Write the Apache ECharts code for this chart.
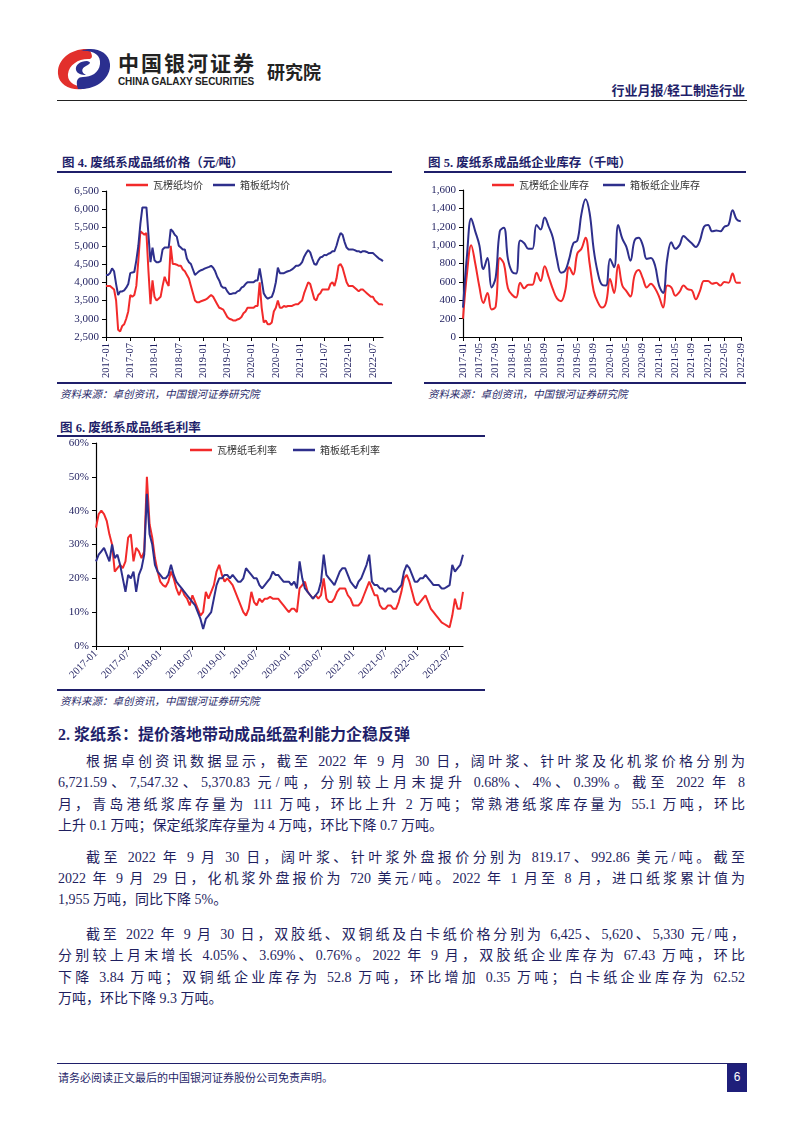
<!DOCTYPE html>
<html>
<head>
<meta charset="utf-8">
<script src="https://cdn.jsdelivr.net/npm/echarts@6/dist/echarts.min.js"></script>
<style>
  body { margin: 0; background: #fff; width: 802px; height: 1133px; position: relative; overflow: hidden;
         font-family: "Liberation Serif", "Noto Sans CJK SC", serif; color: #1f1f5f; }
  .abs { position: absolute; }
  .hline { position: absolute; height: 0; }
  .ctitle { position: absolute; font-size: 12.5px; font-weight: bold; color: #1f1f6a; white-space: nowrap; }
  .src { position: absolute; font-size: 10.5px; font-style: italic; color: #2a2a6a; white-space: nowrap; }
  .chart { position: absolute; }
  .ln { position: absolute; left: 58px; width: 687px; font-size: 14px; line-height: 18px; white-space: nowrap;
        text-align: justify; text-align-last: justify; }
  .ln.last { text-align-last: left; }
  .ln.ind { left: 86px; width: 659px; }
</style>
</head>
<body>

<!-- 页眉 -->
<svg class="abs" style="left:56px;top:46px" width="56" height="46" viewBox="0 0 56 46">
  <path d="M33 3 C14 2 1 14 2 28 C3 41 20 47 33 41 C21 42 11 37 12 28 C13 19 22 13 32 13 C36 13 38 11 33 3 Z" fill="#e2302c"/>
  <path d="M22 43 C41 44 55 32 54 18 C53 5 37 0 25 5 C37 4 45 9 44 18 C43 27 35 31 27 31 C22 31 19 34 22 43 Z" fill="#2b2f8f"/>
  <path d="M31 15 C24 15 19 19 20 24 C21 28 26 29 30 29 C25 27 25 22 30 20 C34 18 36 16 31 15 Z" fill="#2b2f8f"/>
</svg>
<div class="abs" style="left:118px;top:52px;font-family:'Noto Sans CJK SC';font-weight:bold;font-size:21px;line-height:21px;color:#222;letter-spacing:2px;">中国银河证券</div>
<div class="abs" style="left:118px;top:77px;font-family:'Liberation Sans';font-weight:bold;font-size:10px;line-height:10px;color:#222;letter-spacing:-0.1px;">CHINA GALAXY SECURITIES</div>
<div class="abs" style="left:267px;top:62px;font-family:'Noto Sans CJK SC';font-weight:bold;font-size:18px;line-height:18px;color:#222;">研究院</div>
<div class="abs" style="right:57px;top:80px;font-size:13px;color:#1f1f6a;font-weight:bold;">行业月报/轻工制造行业</div>
<div class="hline" style="left:57px;top:100px;width:690px;border-top:1.5px solid #222;"></div>

<!-- 图4 -->
<div class="ctitle" style="left:62px;top:152px;">图 4. 废纸系成品纸价格（元/吨）</div>
<div class="hline" style="left:57px;top:171px;width:335px;border-top:2px solid #1f1f6a;"></div>
<div id="priceChart" class="chart" style="left:57px;top:172px;width:335px;height:209px;"></div>
<div class="hline" style="left:57px;top:382px;width:335px;border-top:2px solid #1f1f6a;"></div>
<div class="src" style="left:60px;top:386px;">资料来源：卓创资讯，中国银河证券研究院</div>

<!-- 图5 -->
<div class="ctitle" style="left:428px;top:152px;">图 5. 废纸系成品纸企业库存（千吨）</div>
<div class="hline" style="left:424px;top:171px;width:322px;border-top:2px solid #1f1f6a;"></div>
<div id="stockChart" class="chart" style="left:424px;top:172px;width:322px;height:209px;"></div>
<div class="hline" style="left:424px;top:382px;width:322px;border-top:2px solid #1f1f6a;"></div>
<div class="src" style="left:428px;top:386px;">资料来源：卓创资讯，中国银河证券研究院</div>

<!-- 图6 -->
<div class="ctitle" style="left:60px;top:417px;">图 6. 废纸系成品纸毛利率</div>
<div class="hline" style="left:57px;top:435px;width:428px;border-top:2px solid #1f1f6a;"></div>
<div id="marginChart" class="chart" style="left:57px;top:436px;width:428px;height:252px;"></div>
<div class="hline" style="left:57px;top:689px;width:428px;border-top:2px solid #1f1f6a;"></div>
<div class="src" style="left:60px;top:693px;">资料来源：卓创资讯，中国银河证券研究院</div>

<!-- 正文 -->
<div class="abs" style="left:58px;top:721px;font-size:16px;font-weight:bold;color:#1f1f6a;">2. 浆纸系：提价落地带动成品纸盈利能力企稳反弹</div>

<div class="ln ind" style="top:753px;">根据卓创资讯数据显示，截至 2022 年 9 月 30 日，阔叶浆、针叶浆及化机浆价格分别为</div>
<div class="ln" style="top:774px;">6,721.59、7,547.32、5,370.83 元/吨，分别较上月末提升 0.68%、4%、0.39%。截至 2022 年 8</div>
<div class="ln" style="top:796px;">月，青岛港纸浆库存量为 111 万吨，环比上升 2 万吨；常熟港纸浆库存量为 55.1 万吨，环比</div>
<div class="ln last" style="top:817px;">上升 0.1 万吨；保定纸浆库存量为 4 万吨，环比下降 0.7 万吨。</div>

<div class="ln ind" style="top:849px;">截至 2022 年 9 月 30 日，阔叶浆、针叶浆外盘报价分别为 819.17、992.86 美元/吨。截至</div>
<div class="ln" style="top:870px;">2022 年 9 月 29 日，化机浆外盘报价为 720 美元/吨。2022 年 1 月至 8 月，进口纸浆累计值为</div>
<div class="ln last" style="top:891px;">1,955 万吨，同比下降 5%。</div>

<div class="ln ind" style="top:926px;">截至 2022 年 9 月 30 日，双胶纸、双铜纸及白卡纸价格分别为 6,425、5,620、5,330 元/吨，</div>
<div class="ln" style="top:947px;">分别较上月末增长 4.05%、3.69%、0.76%。2022 年 9 月，双胶纸企业库存为 67.43 万吨，环比</div>
<div class="ln" style="top:969px;">下降 3.84 万吨；双铜纸企业库存为 52.8 万吨，环比增加 0.35 万吨；白卡纸企业库存为 62.52</div>
<div class="ln last" style="top:990px;">万吨，环比下降 9.3 万吨。</div>

<!-- 页脚 -->
<div class="hline" style="left:57px;top:1063px;width:690px;border-top:1.5px solid #1f1f6a;"></div>
<div class="abs" style="left:58px;top:1069px;font-size:11px;color:#1f1f6a;">请务必阅读正文最后的中国银河证券股份公司免责声明。</div>
<div class="abs" style="left:727px;top:1064px;width:20px;height:28px;background:#1f1f7a;color:#fff;font-family:'Liberation Sans';font-size:12px;text-align:center;line-height:26px;">6</div>

<script>
// 图4 废纸系成品纸价格（元/吨），半月度
var priceRed = [
    3900, 3900, 3900, 3850, 3800, 3500, 2700, 2650, 2800, 2850, 3000, 3200,
    3650, 3600, 3650, 3900, 4600, 5400, 5350, 5300, 5350, 4300, 3400, 4050,
    3600, 3500, 3550, 3600, 3900, 4150, 4000, 3900, 5000, 4500, 4500, 4480,
    4450, 4450, 4350, 4300, 4200, 4100, 3900, 3700, 3500, 3450, 3450, 3480,
    3500, 3520, 3550, 3600, 3650, 3600, 3500, 3400, 3300, 3280, 3250, 3150,
    3050, 3000, 2980, 2950, 2950, 2980, 3000, 3050, 3150, 3200, 3300, 3300,
    3300, 3300, 3350, 3350, 4000, 3300, 2900, 2950, 2850, 2850, 2900, 3200,
    3300, 3500, 3300, 3300, 3350, 3330, 3350, 3350, 3350, 3380, 3400, 3400,
    3450, 3500, 3700, 3850, 4000, 3950, 3750, 3550, 3500, 3650, 3700, 3800,
    3800, 3800, 3800, 3950, 4000, 3900, 4100, 4450, 4500, 4400, 4200, 4000,
    3900, 3900, 3900, 3850, 3800, 3750, 3800, 3800, 3750, 3700, 3650, 3600,
    3600, 3500, 3450, 3400, 3400, 3380
];
var priceBlue = [
    4200, 4200, 4250, 4380, 4300, 3950, 3650, 3750, 3750, 3780, 3850, 3950,
    4250, 4270, 4280, 4600, 5000, 5600, 6050, 6050, 6050, 5300, 4550, 4950,
    4600, 4550, 4550, 4580, 4900, 4950, 4950, 4950, 5450, 5400, 5300, 5250,
    5000, 4950, 4900, 4900, 4650, 4550, 4500, 4350, 4200, 4250, 4300, 4330,
    4350, 4380, 4400, 4420, 4450, 4400, 4300, 4150, 4050, 3900, 3850, 3850,
    3750, 3680, 3680, 3700, 3700, 3750, 3770, 3850, 3880, 3950, 4000, 4000,
    4000, 4000, 4050, 4050, 4380, 4050, 3700, 3600, 3550, 3580, 3600, 3750,
    4000, 4400, 4250, 4250, 4250, 4280, 4300, 4320, 4350, 4400, 4450, 4450,
    4480, 4550, 4700, 4800, 4880, 4820, 4650, 4500, 4480, 4600, 4680, 4700,
    4750, 4740, 4780, 4800, 4850, 4850, 5000, 5200, 5350, 5300, 5100, 4950,
    4900, 4900, 4900, 4880, 4850, 4850, 4820, 4850, 4850, 4830, 4800, 4800,
    4800, 4750, 4700, 4650, 4620, 4580
];

// 图5 废纸系成品纸企业库存（千吨），月度 2017-01 ~ 2022-09
var stockRed = [
    200, 700, 1000, 800, 550, 370, 480, 300, 330, 860, 800, 530,
    460, 430, 590, 530, 570, 570, 700, 610, 770, 650, 520, 420,
    390, 500, 760, 680, 910, 960, 1080, 800, 500, 380, 320, 370,
    630, 480, 790, 560, 500, 440, 670, 730, 640, 540, 580, 530,
    440, 320, 560, 540, 450, 490, 560, 520, 510, 410, 500, 610,
    610, 580, 590, 560, 600, 590, 690, 590, 590
];
var stockBlue = [
    320, 900, 1290, 1150, 1000, 740, 860, 540, 650, 1150, 1190, 850,
    710, 690, 1050, 1020, 960, 960, 1220, 1170, 1300, 1200, 1080, 850,
    700, 720, 850, 1020, 1050, 1340, 1500, 1350, 950, 700, 570, 560,
    850, 760, 1220, 1070, 980, 830, 1050, 1080, 1000, 850, 860, 780,
    560, 480, 850, 1030, 960, 1000, 1100, 1060, 1020, 980, 1050, 1200,
    1220, 1150, 1160, 1150, 1200, 1220, 1380, 1280, 1260
];

// 图6 废纸系成品纸毛利率（%），半月度
var marginRed = [
    35, 39, 40, 39, 37, 33, 30, 22, 23, 24, 23, 25,
    32, 33, 25, 29, 28, 26, 28, 50, 36, 32, 26, 22,
    19, 18, 17.5, 19, 22, 20, 17, 15, 17, 15, 14, 12,
    15, 13, 11, 9, 10, 16, 14, 16, 18, 22, 24, 21,
    19, 20, 19, 18, 16, 14, 12, 10, 9, 11, 16, 13,
    12, 14, 13, 14, 14, 14.5, 14, 14, 14, 13, 12, 11,
    10, 11, 11, 10, 17, 18, 19, 16, 15, 14, 15, 14,
    15, 20, 14, 13, 13, 14, 16, 17, 17, 17, 15, 14,
    12, 12, 12, 13, 15, 17, 19, 17, 15, 15, 12, 11,
    11, 12, 12, 11, 11, 13, 16, 20, 21, 19, 16, 13,
    12, 13, 14, 15, 13, 11, 10, 9, 8, 7, 6.5, 6,
    5.5, 9, 14, 11, 11, 16
];
var marginBlue = [
    25, 27, 28, 29, 27, 25, 30, 26, 27, 24, 20, 16,
    21, 20, 22, 16, 21, 23, 27, 45, 33, 30, 24, 22,
    21, 20, 20, 21, 24, 21, 19, 18, 17, 16, 15, 14,
    13, 12, 10, 8, 5, 8, 9, 10, 14, 18, 20, 20,
    21, 21, 20, 21, 20, 19, 19, 20, 23, 22, 21, 20,
    20, 18, 17, 18, 19, 20, 22, 21, 21, 20, 19, 19,
    19, 18, 19, 17, 25, 20, 17, 16, 15, 14, 15, 16,
    19, 27, 21, 20, 19, 18, 20, 22, 23, 23, 21, 19,
    18, 17, 19, 20, 22, 24, 27, 19, 18, 18, 17, 17,
    16, 17, 17, 16, 16, 17, 18, 22, 24, 23, 21, 19,
    19, 20, 20, 21, 20, 19, 18, 18, 18, 17, 17, 17.5,
    18, 24, 22, 23, 24, 27
];

var priceNames = ['瓦楞纸均价', '箱板纸均价'];
var stockNames = ['瓦楞纸企业库存', '箱板纸企业库存'];
var marginNames = ['瓦楞纸毛利率', '箱板纸毛利率'];

var RED = '#f22a2a', BLUE = '#2e2f8c', TXT = '#1f1f5f';
var SERIF = '"Liberation Serif", "Noto Sans CJK SC", serif';
var CJK = '"Noto Sans CJK SC", sans-serif';

// 半月度日期轴
function halfMonths(n) {
    var out = [];
    for (var i = 0; i < n; i++) {
        var y = 2017 + Math.floor(i / 24);
        var m = Math.floor((i % 24) / 2) + 1;
        out.push(y + '-' + (m < 10 ? '0' : '') + m + (i % 2 ? '-16' : '-01'));
    }
    return out;
}
// 月度日期轴
function months(n) {
    var out = [];
    for (var i = 0; i < n; i++) {
        var y = 2017 + Math.floor(i / 12);
        var m = i % 12 + 1;
        out.push(y + '-' + (m < 10 ? '0' : '') + m);
    }
    return out;
}

function legendOf(names, left, top, gap) {
    return {
        data: names, left: left, top: top, icon: 'rect',
        itemWidth: 22, itemHeight: 2.5, itemGap: gap,
        textStyle: { fontFamily: CJK, fontSize: 10, color: '#333' }
    };
}

function lineSeries(name, data, color, smooth) {
    return {
        name: name, type: 'line', data: data, symbol: 'none', smooth: smooth,
        lineStyle: { color: color, width: 2 }, itemStyle: { color: color }
    };
}

function yAxisOf(min, max, interval, fmt) {
    return {
        type: 'value', min: min, max: max, interval: interval,
        axisLine: { show: true, lineStyle: { color: '#000', width: 1.2 } },
        axisTick: { show: true, length: 4, lineStyle: { color: '#000' } },
        splitLine: { show: false },
        axisLabel: { fontFamily: SERIF, fontSize: 11, color: TXT, margin: 7, formatter: fmt }
    };
}

function xAxisOf(cats, step, rotate) {
    var pick = function (idx) { return idx % step === 0; };
    return {
        type: 'category', data: cats, boundaryGap: false,
        axisLine: { lineStyle: { color: '#000', width: 1.2 } },
        axisTick: { show: true, interval: pick, length: 4, lineStyle: { color: '#000' } },
        axisLabel: {
            interval: pick, rotate: rotate, fontFamily: SERIF, fontSize: 10.5, color: TXT, margin: 6,
            formatter: function (v) { return v.slice(0, 7); }
        }
    };
}

function initPriceChart() {
    var myChart = echarts.init(document.getElementById('priceChart'));
    var cats = halfMonths(priceRed.length);
    myChart.setOption({
        animation: false,
        legend: legendOf(priceNames, 64, 3, 10),
        grid: { left: 49, top: 19, width: 277, height: 146 },
        xAxis: xAxisOf(cats, 12, 90),
        yAxis: yAxisOf(2500, 6500, 500, function (v) { return v.toLocaleString('en-US'); }),
        series: [
            lineSeries(priceNames[0], priceRed, RED, false),
            lineSeries(priceNames[1], priceBlue, BLUE, false)
        ]
    });
}

function initStockChart() {
    var myChart = echarts.init(document.getElementById('stockChart'));
    var cats = months(stockRed.length);
    myChart.setOption({
        animation: false,
        legend: legendOf(stockNames, 63, 3, 14),
        grid: { left: 39, top: 18, width: 278, height: 147 },
        xAxis: xAxisOf(cats, 4, 90),
        yAxis: yAxisOf(0, 1600, 200, function (v) { return v.toLocaleString('en-US'); }),
        series: [
            lineSeries(stockNames[0], stockRed, RED, 0.4),
            lineSeries(stockNames[1], stockBlue, BLUE, 0.4)
        ]
    });
}

function initMarginChart() {
    var myChart = echarts.init(document.getElementById('marginChart'));
    var cats = halfMonths(marginRed.length);
    myChart.setOption({
        animation: false,
        legend: legendOf(marginNames, 128, 4, 16),
        grid: { left: 39, top: 7, width: 367, height: 203 },
        xAxis: xAxisOf(cats, 12, 45),
        yAxis: yAxisOf(0, 60, 10, '{value}%'),
        series: [
            lineSeries(marginNames[0], marginRed, RED, false),
            lineSeries(marginNames[1], marginBlue, BLUE, false)
        ]
    });
}

initPriceChart();
initStockChart();
initMarginChart();
</script>
</body>
</html>
